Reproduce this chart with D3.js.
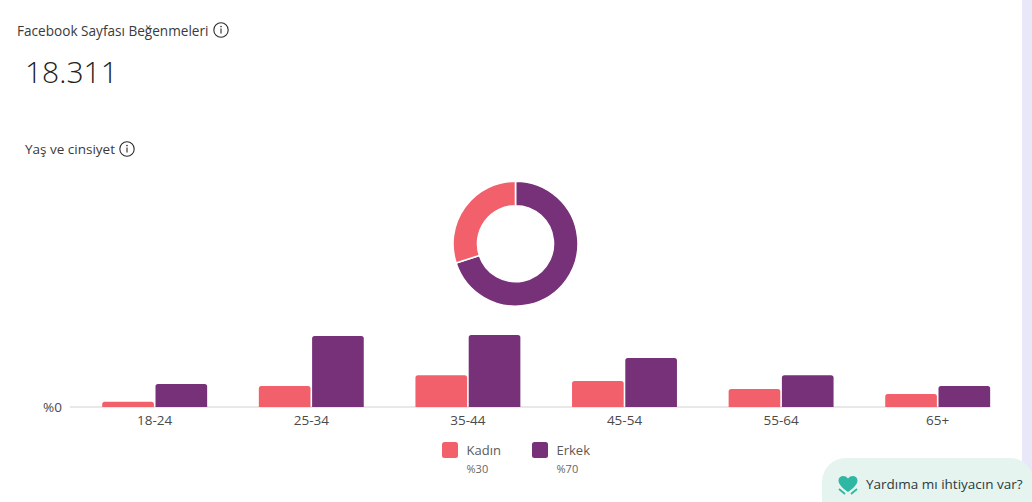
<!DOCTYPE html>
<html><head><meta charset="utf-8">
<script src="https://cdn.jsdelivr.net/npm/d3@7/dist/d3.min.js"></script>
<style>html,body{margin:0;padding:0;background:#fff;overflow:hidden}svg{display:block}text{font-family:"Open Sans","Noto Sans",sans-serif}</style>
</head><body><div id="c"></div>
<script>
const ageGroups = ["18-24","25-34","35-44","45-54","55-64","65+"];
const femaleValues = [1.4,5.5,8.3,6.8,4.7,3.4];
const maleValues = [6.0,18.5,18.8,12.8,8.3,5.5];
const genderLabels = ["Kadın","Erkek"];
const genderShares = [30,70];
const genderColors = ["#f2606b","#763179"];
const W=1032,H=502;
const svg=d3.select("#c").append("svg").attr("width",W).attr("height",H);
svg.append("rect").attr("x",1022).attr("y",0).attr("width",10).attr("height",H).attr("fill","#e8e8f8");
function info(cx,cy){
  const g=svg.append("g").attr("transform",`translate(${cx},${cy})`);
  g.append("circle").attr("r",7.2).attr("fill","none").attr("stroke","#2b2b2b").attr("stroke-width",1.1);
  g.append("rect").attr("x",-0.55).attr("y",-1.5).attr("width",1.1).attr("height",5).attr("fill","#2b2b2b");
  g.append("circle").attr("cy",-3.4).attr("r",0.8).attr("fill","#2b2b2b");
}
svg.append("text").attr("x",17).attr("y",36).attr("font-size",13.6).attr("fill","#3a3a3a").text("Facebook Sayfası Beğenmeleri");
info(221,30);
svg.append("text").attr("x",25).attr("y",83).attr("font-size",30).attr("font-weight",300).attr("fill","#222").text("18.311");
svg.append("text").attr("x",25).attr("y",154).attr("font-size",13.5).attr("fill","#3a3a3a").text("Yaş ve cinsiyet");
info(127,149);
// donut
const pie=d3.pie().sort(null).startAngle(0).endAngle(2*Math.PI)
  .value(d=>d)(genderShares.slice().reverse());
const arc=d3.arc().innerRadius(38).outerRadius(62.5);
svg.append("g").attr("transform","translate(515.5,243.7)").selectAll("path").data(pie).join("path")
  .attr("d",arc).attr("fill",(d,i)=>genderColors[1-i]).attr("stroke","#fff").attr("stroke-width",1.6);
// bars
const x0=d3.scaleBand().domain(ageGroups).range([76.4,1016]).paddingInner(0.33).paddingOuter(0.165);
const x1=d3.scaleBand().domain(genderLabels).range([0,x0.bandwidth()]).paddingInner(0.03);
const y=d3.scaleLinear().domain([0,100]).range([407,407-383.5]);
const baseY=y(0);
svg.append("line").attr("x1",70).attr("x2",990).attr("y1",baseY).attr("y2",baseY).attr("stroke","#e8e8e8").attr("stroke-width",2);
const roundTop=(x,yy,w,h,r)=>{r=Math.min(r,h);return `M${x},${yy+h}V${yy+r}Q${x},${yy} ${x+r},${yy}H${x+w-r}Q${x+w},${yy} ${x+w},${yy+r}V${yy+h}Z`;};
[femaleValues,maleValues].forEach((vals,k)=>{
  svg.append("g").selectAll("path").data(vals).join("path")
   .attr("d",(v,i)=>roundTop(x0(ageGroups[i])+x1(genderLabels[k]),y(v),x1.bandwidth(),baseY-y(v),2.5))
   .attr("fill",genderColors[k]);
});
svg.append("text").attr("x",62).attr("y",412).attr("text-anchor","end").attr("font-size",13.5).attr("fill","#4a4a4a").text("%0");
const axis=d3.axisBottom(x0).tickSize(0).tickPadding(0);
const ax=svg.append("g").attr("transform",`translate(0,${baseY})`).call(axis);
ax.select(".domain").remove();
ax.selectAll("text").attr("font-size",13.5).attr("fill","#4a4a4a").attr("y",8).attr("font-family",'"Open Sans","Noto Sans",sans-serif');
// legend
const lx=d3.scaleOrdinal().domain(genderLabels).range([442,532]);
genderLabels.forEach((n,i)=>{
  const x=lx(n);
  svg.append("rect").attr("x",x).attr("y",442).attr("width",16).attr("height",16).attr("rx",2.5).attr("fill",genderColors[i]);
  svg.append("text").attr("x",x+24.5).attr("y",455).attr("font-size",13).attr("fill","#5a5a5a").text(n);
  svg.append("text").attr("x",x+24.5).attr("y",473).attr("font-size",11).attr("fill","#666").text("%"+genderShares[i]);
});
// help pill
svg.append("rect").attr("x",822).attr("y",458).attr("width",212).attr("height",70).attr("rx",24).attr("fill","#e6f4ef");
svg.append("path").attr("fill","#2eb8a3").attr("d","M848,492C842,488 838.5,484 838.5,480.5C838.5,475.5 845,474.5 848,478.5C851,474.5 857.5,475.5 857.5,480.5C857.5,484 854,488 848,492Z");
svg.append("path").attr("fill","none").attr("stroke","#2eb8a3").attr("stroke-width",1.8).attr("d","M839,489L845,494M857,489L851,494");
svg.append("text").attr("x",866).attr("y",489).attr("font-size",13.5).attr("fill","#2b3a40").text("Yardıma mı ihtiyacın var?");
</script></body></html>
